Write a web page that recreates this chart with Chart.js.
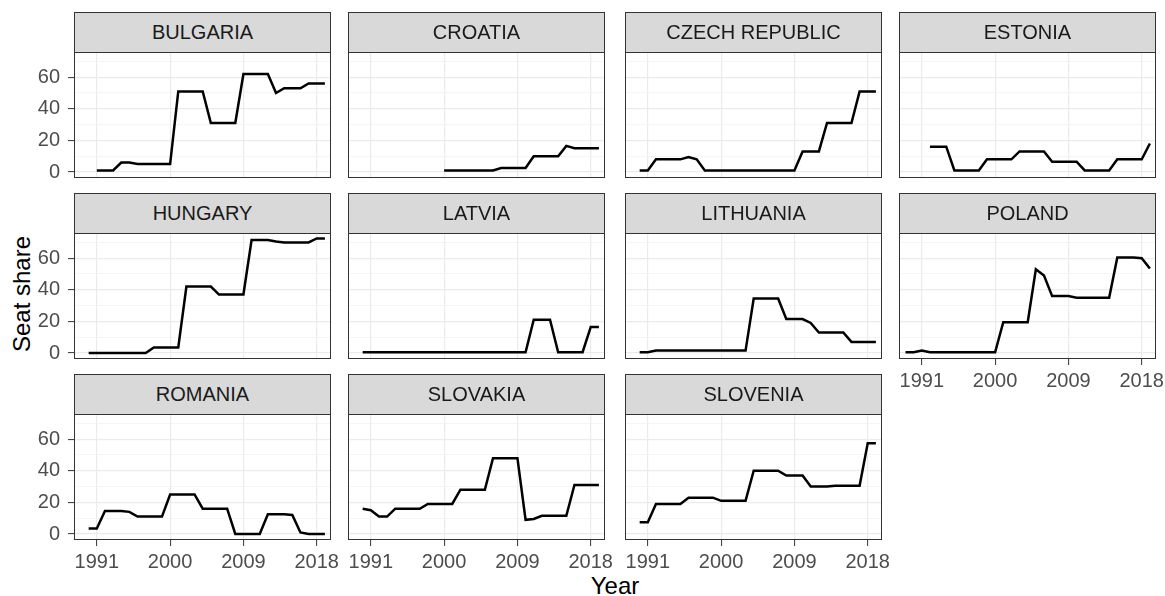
<!DOCTYPE html>
<html>
<head>
<meta charset="utf-8">
<script src="https://cdn.jsdelivr.net/npm/chart.js@4/dist/chart.umd.min.js"></script>
<style>
  body { margin: 0; background: #fff; font-family: "Liberation Sans", Arial, sans-serif; }
  #wrap { position: relative; width: 1165px; height: 596px; overflow: hidden; background: #fff; }
  #wrap canvas { position: absolute; z-index: 1; }
  .frame { position: absolute; border: 1px solid #333; box-sizing: border-box; pointer-events: none; z-index: 2; }
  .strip { position: absolute; background: #d9d9d9; border: 1px solid #333; box-sizing: border-box;
           color: #1a1a1a; font-size: 20px; text-align: center; z-index: 3; }
  .title { position: absolute; color: #000; font-size: 24px; white-space: nowrap; }
</style>
</head>
<body>
<div id="wrap">
  <div class="title" id="xtitle">Year</div>
  <div class="title" id="ytitle">Seat share</div>
</div>
<script>
// --- dados (um valor por ano, null = sem dados) ---
const years = [1989, 1990, 1991, 1992, 1993, 1994, 1995, 1996, 1997, 1998, 1999,
               2000, 2001, 2002, 2003, 2004, 2005, 2006, 2007, 2008, 2009,
               2010, 2011, 2012, 2013, 2014, 2015, 2016, 2017, 2018, 2019];

const countries = ["BULGARIA", "CROATIA", "CZECH REPUBLIC", "ESTONIA",
                   "HUNGARY", "LATVIA", "LITHUANIA", "POLAND",
                   "ROMANIA", "SLOVAKIA", "SLOVENIA"];

const bulgaria  = [null, null, 1, 1, 1, 6, 6, 5, 5, 5, 5,
                   5, 51, 51, 51, 51, 31, 31, 31, 31, 62,
                   62, 62, 62, 50, 53, 53, 53, 56, 56, 56];
const croatia   = [null, null, null, null, null, null, null, null, null, null, null,
                   1, 1, 1, 1, 1, 1, 1, 2.5, 2.5, 2.5,
                   2.5, 10, 10, 10, 10, 16.5, 15, 15, 15, 15];
const czech     = [null, 1, 1, 8, 8, 8, 8, 9.5, 8, 1, 1,
                   1, 1, 1, 1, 1, 1, 1, 1, 1, 1,
                   13, 13, 13, 31, 31, 31, 31, 51, 51, 51];
const estonia   = [null, null, null, 16, 16, 16, 1, 1, 1, 1, 8,
                   8, 8, 8, 13, 13, 13, 13, 6.5, 6.5, 6.5,
                   6.5, 1, 1, 1, 1, 8, 8, 8, 8, 18];
const hungary   = [null, 0, 0, 0, 0, 0, 0, 0, 0, 3.5, 3.5,
                   3.5, 3.5, 42, 42, 42, 42, 37, 37, 37, 37,
                   71.5, 71.5, 71.5, 70.5, 70, 70, 70, 70, 72.5, 72.5];
const latvia    = [null, 0.5, 0.5, 0.5, 0.5, 0.5, 0.5, 0.5, 0.5, 0.5, 0.5,
                   0.5, 0.5, 0.5, 0.5, 0.5, 0.5, 0.5, 0.5, 0.5, 0.5,
                   0.5, 21, 21, 21, 0.5, 0.5, 0.5, 0.5, 16.5, 16.5];
const lithuania = [null, 0.5, 0.5, 1.5, 1.5, 1.5, 1.5, 1.5, 1.5, 1.5, 1.5,
                   1.5, 1.5, 1.5, 1.5, 34.5, 34.5, 34.5, 34.5, 21.5, 21.5,
                   21.5, 19, 13, 13, 13, 13, 7, 7, 7, 7];
const poland    = [0.5, 0.5, 1.5, 0.5, 0.5, 0.5, 0.5, 0.5, 0.5, 0.5, 0.5,
                   0.5, 19.5, 19.5, 19.5, 19.5, 53, 49, 36, 36, 36,
                   35, 35, 35, 35, 35, 60.5, 60.5, 60.5, 60, 53.5];
const romania   = [null, 3.5, 3.5, 14.5, 14.5, 14.5, 14, 11, 11, 11, 11,
                   25, 25, 25, 25, 16, 16, 16, 16, 0, 0,
                   0, 0, 12.5, 12.5, 12.5, 12, 1, 0, 0, 0];
const slovakia  = [null, 16, 15, 11, 11, 16, 16, 16, 16, 19, 19,
                   19, 19, 28, 28, 28, 28, 48, 48, 48, 48,
                   9, 9.5, 11.5, 11.5, 11.5, 11.5, 31, 31, 31, 31];
const slovenia  = [null, 7.5, 7.5, 19, 19, 19, 19, 23, 23, 23, 23,
                   21, 21, 21, 21, 40, 40, 40, 40, 37, 37,
                   37, 30, 30, 30, 30.5, 30.5, 30.5, 30.5, 57.5, 57.5];

const series = [bulgaria, croatia, czech, estonia, hungary, latvia,
                lithuania, poland, romania, slovakia, slovenia];

const xTicks = [1991, 2000, 2009, 2018];
const yTicks = [0, 10, 20, 30, 40, 50, 60, 70];

// --- layout dos painéis ---
const colLeft = [74, 348, 625, 899];
const rowTop = [12, 193, 374];
const panelW = 257, stripH = 41, plotH = 125;
const padL = 74, padT = 6, padR = 30, padB = 50;
const yAxisW = 40, xAxisH = 40;
const fontTick = { family: "'Liberation Sans', Arial, sans-serif", size: 20 };

const wrap = document.getElementById("wrap");

countries.forEach((nome, i) => {
  const col = i % 4, row = Math.floor(i / 4);
  const showY = col === 0;
  const showX = row === 2 || (row === 1 && col === 3);
  const left = colLeft[col], top = rowTop[row];

  const strip = document.createElement("div");
  strip.className = "strip";
  Object.assign(strip.style, { left: left + "px", top: top + "px", width: panelW + "px",
    height: stripH + "px", lineHeight: (stripH - 2) + "px" });
  strip.textContent = nome;
  wrap.appendChild(strip);

  const frame = document.createElement("div");
  frame.className = "frame";
  Object.assign(frame.style, { left: left + "px", top: top + "px", width: panelW + "px",
    height: (stripH + plotH) + "px" });
  wrap.appendChild(frame);

  const canvas = document.createElement("canvas");
  canvas.width = padL + panelW + padR;
  canvas.height = padT + plotH + padB;
  canvas.style.left = (left - padL) + "px";
  canvas.style.top = (top + stripH - padT) + "px";
  wrap.appendChild(canvas);

  const vals = series[i];

  new Chart(canvas, {
    type: "line",
    data: {
      datasets: [{
        data: years.map((x, k) => ({ x, y: vals[k] })),
        borderColor: "#000",
        borderWidth: 2.5,
        pointRadius: 0,
        tension: 0,
        spanGaps: false
      }]
    },
    options: {
      responsive: false,
      animation: false,
      devicePixelRatio: 1,
      layout: { padding: { left: padL - yAxisW, top: padT, right: padR, bottom: padB - xAxisH } },
      plugins: { legend: { display: false }, tooltip: { enabled: false } },
      scales: {
        x: {
          type: "linear",
          min: 1988.2,
          max: 2019.75,
          afterBuildTicks: s => { s.ticks = xTicks.map(v => ({ value: v })); },
          afterFit: s => { s.height = xAxisH; s.paddingLeft = 0; s.paddingRight = 0; },
          border: { display: false },
          grid: { color: "#ebebeb", lineWidth: 1.2, tickLength: 6, tickWidth: 1,
                  tickColor: showX ? "#333" : "transparent" },
          ticks: { autoSkip: false, maxRotation: 0, padding: 4, font: fontTick,
                   color: showX ? "#4d4d4d" : "transparent", callback: v => String(v) }
        },
        y: {
          min: -3.8,
          max: 75.3,
          afterBuildTicks: s => { s.ticks = yTicks.map(v => ({ value: v })); },
          afterFit: s => { s.width = yAxisW; s.paddingTop = 0; s.paddingBottom = 0; },
          border: { display: false },
          grid: {
            color: ctx => ctx.tick && ctx.tick.value % 20 === 0 ? "#ebebeb" : "#f3f3f3",
            lineWidth: ctx => ctx.tick && ctx.tick.value % 20 === 0 ? 1.2 : 0.8,
            tickLength: 6, tickWidth: 1,
            tickColor: ctx => showY && ctx.tick && ctx.tick.value % 20 === 0 ? "#333" : "transparent"
          },
          ticks: { autoSkip: false, padding: 8, font: fontTick,
                   color: showY ? "#4d4d4d" : "transparent",
                   callback: v => v % 20 === 0 ? String(v) : "" }
        }
      }
    }
  });
});

// títulos dos eixos
const xt = document.getElementById("xtitle");
xt.style.left = "615px";
xt.style.top = "572px";
xt.style.transform = "translateX(-50%)";
const yt = document.getElementById("ytitle");
yt.style.left = "22px";
yt.style.top = "294px";
yt.style.transform = "translate(-50%, -50%) rotate(-90deg)";
</script>
</body>
</html>
